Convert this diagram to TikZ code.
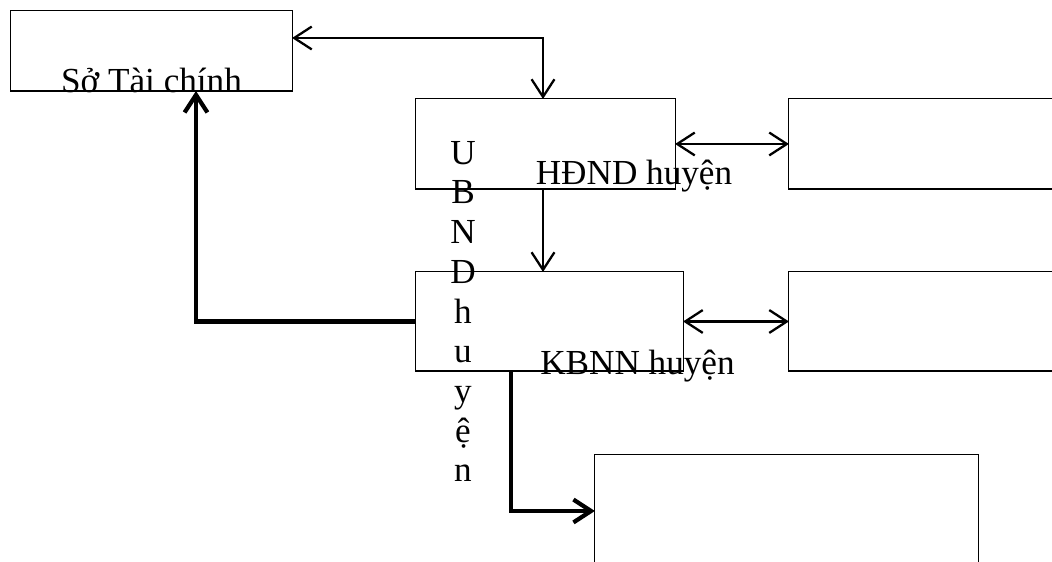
\documentclass[tikz,border=0pt]{standalone}
\usepackage{fontspec}
\setmainfont{Liberation Serif}
\usetikzlibrary{arrows.meta,positioning,calc}
\tikzset{
  box/.style={draw,line width=.3pt,inner sep=0pt,outer sep=0pt},
  lbl/.style={inner sep=0pt,font=\fontsize{10}{11.3}\selectfont,anchor=base},
  link/.style={->,line width=.65pt},
  twoway/.style={<->,line width=.65pt},
  heavy/.style={->,line width=1.2pt}
}

\begin{document}
\begin{tikzpicture}[x=.01cm,y=-.01cm,>={Straight Barb[length=5pt,width=6.5pt]}]
        \useasboundingbox (0,0) rectangle (1052,562);
        \clip (0,0) rectangle (1052,562);
        \node[box,minimum width=2.81cm,minimum height=.80cm] (so) at (151.5,51) {};
        \node[box,minimum width=2.59cm,minimum height=.90cm] (hdnd) at (545.5,144) {};
        \node[box,minimum width=3.11cm,minimum height=.90cm] (right1) at (944.5,144) {};
        \node[box,minimum width=2.67cm,minimum height=.99cm] (kbnn) at (549.5,321.5) {};
        \node[box,minimum width=3.11cm,minimum height=.99cm] (right2) at (944.5,321.5) {};
        \node[box,minimum width=3.83cm,minimum height=1.45cm] (bottom) at (786.5,527.5) {};
        \node[lbl] (sotext) at (151.5,93) {Sở Tài chính};
        \node[lbl] (hdndtext) at (634,185) {HĐND huyện};
        \node[lbl] (kbnntext) at (637.5,375) {KBNN huyện};
        \node[lbl,align=center] (ubndtext) at (463,482) {U\\B\\N\\D\\h\\u\\y\\ệ\\n};
        \coordinate (top) at (543,38);
        \coordinate (left) at (196,321.5);
        \coordinate (down) at (511,511);
        \draw[twoway] (so.east |- top) -- (top) -- (top |- hdnd.north);
        \draw[link] (top |- hdnd.south) -- (top |- kbnn.north);
        \draw[twoway] (hdnd.east) -- (right1.west);
        \draw[twoway] (kbnn.east) -- (right2.west);
        \draw[heavy] (kbnn.west) -- (left) -- (left |- so.south);
        \draw[heavy] (down |- kbnn.south) -- (down) -- (bottom.west |- down);
      \end{tikzpicture}
\end{document}
